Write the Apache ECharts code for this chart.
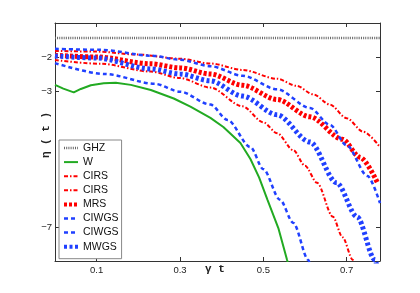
<!DOCTYPE html>
<html>
<head>
<meta charset="utf-8">
<script src="https://cdn.jsdelivr.net/npm/echarts@6/dist/echarts.min.js"></script>
<style>html,body{margin:0;padding:0;background:#fff}#c{width:420px;height:293px}</style>
</head>
<body>
<div id="c"></div>
<script>
// ---- data (gamma*t, eta(t)) ----
const xTicks = [0.1, 0.3, 0.5, 0.7];
const yTicks = [-2, -3, -7];
const seriesNames = ['GHZ', 'W', 'CIRS', 'CIRS\u200b', 'MRS', 'CIWGS', 'CIWGS\u200b', 'MWGS'];

const ghz = [[0, -1.44], [0.78, -1.44]];
const w = [[0, -2.82], [0.02, -2.93], [0.045, -3.04], [0.062, -2.94], [0.086, -2.83], [0.117, -2.77], [0.146, -2.76],
  [0.182, -2.82], [0.23, -2.97], [0.285, -3.22], [0.325, -3.46], [0.373, -3.79], [0.404, -4.06], [0.445, -4.53],
  [0.469, -5.0], [0.49, -5.55], [0.51, -6.2], [0.536, -7.03], [0.557, -7.97], [0.565, -8.3]];
const cirs1 = [[0, -1.82], [0.1, -1.84], [0.2, -1.93], [0.3, -2.05], [0.373, -2.19], [0.45, -2.38], [0.533, -2.64],
  [0.58, -2.85], [0.62, -3.1], [0.66, -3.4], [0.70, -3.8], [0.74, -4.2], [0.78, -4.65]];
const cirs2 = [[0, -2.09], [0.11, -2.2], [0.23, -2.43], [0.3, -2.62], [0.373, -2.9], [0.45, -3.45], [0.5, -3.92],
  [0.533, -4.24], [0.572, -4.74], [0.6, -5.2], [0.629, -5.7], [0.667, -6.7], [0.69, -7.3], [0.715, -7.97], [0.722, -8.3]];
const mrs = [[0, -1.95], [0.1, -2.0], [0.23, -2.2], [0.3, -2.32], [0.373, -2.5], [0.45, -2.83], [0.533, -3.25],
  [0.612, -3.76], [0.69, -4.42], [0.732, -4.95], [0.775, -5.72]];
const ciwgs1 = [[0, -1.76], [0.11, -1.79], [0.23, -1.96], [0.3, -2.08], [0.373, -2.27], [0.45, -2.55], [0.533, -2.95],
  [0.612, -3.5], [0.66, -4.0], [0.70, -4.6], [0.75, -5.5], [0.78, -6.3]];
const ciwgs2 = [[0, -2.18], [0.12, -2.5], [0.24, -2.79], [0.3, -3.02], [0.373, -3.4], [0.414, -3.85], [0.469, -4.65],
  [0.5, -5.3], [0.54, -6.2], [0.572, -6.88], [0.608, -7.97], [0.615, -8.3]];
const mwgs = [[0, -1.97], [0.1, -2.03], [0.23, -2.35], [0.3, -2.5], [0.373, -2.7], [0.45, -3.15], [0.533, -3.7],
  [0.612, -4.5], [0.676, -5.7], [0.725, -6.7], [0.768, -7.97], [0.775, -8.3]];

const RED = '#ff0000', BLUE = '#2040ff', GREEN = '#22aa22', GREY = '#666666';
const styles = [
  { data: ghz, color: GREY, width: 2.5, type: [1, 1.2] },
  { data: w, color: GREEN, width: 2, type: 'solid', nosmooth: true },
  { data: cirs1, color: RED, width: 2, type: [4, 2, 1.5, 2] },
  { data: cirs2, color: RED, width: 2, type: [4, 2, 1.5, 2] },
  { data: mrs, color: RED, width: 5, type: [3, 2] },
  { data: ciwgs1, color: BLUE, width: 2.5, type: [4, 3] },
  { data: ciwgs2, color: BLUE, width: 2.5, type: [4, 3] },
  { data: mwgs, color: BLUE, width: 5, type: [3, 2.5] }
];

const chart = echarts.init(document.getElementById('c'), null, { renderer: 'canvas' });
const axisColor = '#333';
const minus = v => String(v).replace('-', '\u2212');
const clear = 'rgba(0,0,0,0)';

chart.setOption({
  animation: false,
  backgroundColor: '#fff',
  grid: { left: 55, right: 40, top: 23, bottom: 32 },
  xAxis: [{
    type: 'value', min: 0, max: 0.78, position: 'bottom',
    axisLine: { onZero: false, lineStyle: { color: axisColor, width: 1 } },
    axisTick: { inside: true, length: 4, customValues: xTicks, lineStyle: { color: axisColor } },
    axisLabel: { customValues: xTicks, margin: 4, fontSize: 9.5, color: '#222', fontFamily: 'Liberation Sans', formatter: v => v.toFixed(1) },
    splitLine: { show: false }
  }, {
    type: 'value', min: 0, max: 0.78, position: 'top',
    axisLine: { onZero: false, lineStyle: { color: axisColor, width: 1 } },
    axisTick: { inside: true, length: 4, customValues: xTicks, lineStyle: { color: axisColor } },
    axisLabel: { show: false }, splitLine: { show: false }
  }],
  yAxis: [{
    type: 'value', min: -8, max: -1, position: 'left',
    axisLine: { onZero: false, lineStyle: { color: axisColor, width: 1 } },
    axisTick: { inside: true, length: 4, customValues: yTicks, lineStyle: { color: axisColor } },
    axisLabel: { customValues: yTicks, margin: 3, fontSize: 9.5, color: '#222', fontFamily: 'Liberation Sans', formatter: minus },
    splitLine: { show: false }
  }, {
    type: 'value', min: -8, max: -1, position: 'right',
    axisLine: { onZero: false, lineStyle: { color: axisColor, width: 1 } },
    axisTick: { inside: true, length: 4, customValues: yTicks, lineStyle: { color: axisColor } },
    axisLabel: { show: false }, splitLine: { show: false }
  }],
  legend: {
    orient: 'vertical', left: 59, top: 140,
    padding: [2, 3, 6, 3],
    itemWidth: 14, itemHeight: 10, itemGap: 2.1,
    selectedMode: false,
    backgroundColor: '#fff', borderColor: '#888', borderWidth: 1,
    textStyle: { fontSize: 10.5, lineHeight: 12, color: '#111', fontFamily: 'Liberation Sans' },
    itemStyle: { color: clear, borderColor: clear, borderWidth: 0 },
    data: seriesNames.map((n, i) => ({
      name: n,
      itemStyle: { color: clear, borderColor: clear, borderWidth: 0 },
      lineStyle: { width: Math.min(styles[i].width, 4), type: styles[i].type, color: styles[i].color }
    }))
  },
  graphic: [{
    type: 'text', x: 46, y: 135, rotation: Math.PI / 2,
    style: { text: 'η ( t )', textAlign: 'center', textVerticalAlign: 'middle', font: 'bold 11px "Liberation Mono"', fill: '#222' }
  }, {
    type: 'text', x: 215, y: 269,
    style: { text: 'γ t', textAlign: 'center', textVerticalAlign: 'middle', font: 'bold 11px "Liberation Mono"', fill: '#222' }
  }],
  series: styles.map((s, i) => ({
    name: seriesNames[i], type: 'line', data: s.data,
    symbol: 'none', showSymbol: false, clip: true,
    smooth: s.nosmooth ? false : 0.3, smoothMonotone: 'x',
    lineStyle: { color: s.color, width: s.width, type: s.type, cap: 'butt' },
    itemStyle: { color: s.color },
    emphasis: { disabled: true }
  }))
});
</script>
</body>
</html>
